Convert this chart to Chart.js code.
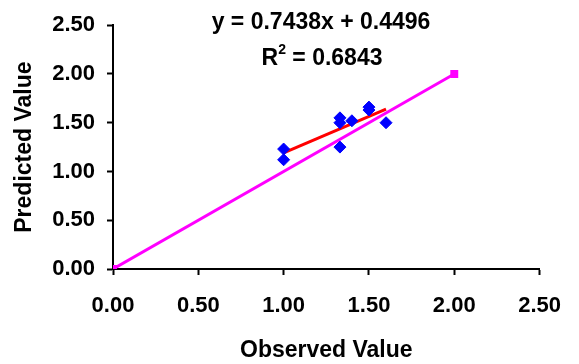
<!DOCTYPE html>
<html>
<head>
<meta charset="utf-8">
<script src="https://cdn.jsdelivr.net/npm/chart.js@4/dist/chart.umd.min.js"></script>
<style>
  html, body { margin: 0; padding: 0; background: #fff; }
  #wrap { width: 579px; height: 364px; }
</style>
</head>
<body>
<div id="wrap"><canvas id="fitChart" width="579" height="364"></canvas></div>
<script>
// 観測値と予測値
const observedX = [1.00, 1.00, 1.33, 1.33, 1.33, 1.40, 1.50, 1.50, 1.60];
const predictedY = [1.23, 1.12, 1.55, 1.50, 1.25, 1.52, 1.66, 1.63, 1.50];

// 近似直線 (y = 0.7438x + 0.4496)
const trendX = [1.00, 1.60];
const trendY = [1.19, 1.64];

// 1:1 線
const oneToOneX = [0, 2];
const oneToOneY = [0, 2];

const tickValues = [0, 0.5, 1, 1.5, 2, 2.5];

const FONT = "'Liberation Sans', Arial, sans-serif";

function toPoints(xs, ys) {
  return xs.map((x, i) => ({ x: x, y: ys[i] }));
}

// 数式と R2 の表示
const equationLabel = {
  id: "equationLabel",
  afterDraw(chart) {
    const ctx = chart.ctx;
    ctx.save();
    ctx.fillStyle = "#000";
    ctx.textBaseline = "middle";
    ctx.font = "bold 23px " + FONT;
    ctx.textAlign = "center";
    ctx.fillText("y = 0.7438x + 0.4496", 321, 23);

    // R^2 = 0.6843
    const rest = " = 0.6843";
    const wR = ctx.measureText("R").width;
    ctx.font = "bold 14px " + FONT;
    const w2 = ctx.measureText("2").width;
    ctx.font = "bold 23px " + FONT;
    const wRest = ctx.measureText(rest).width;
    let x = 322 - (wR + w2 + wRest) / 2;
    ctx.textAlign = "left";
    ctx.fillText("R", x, 59);
    x += wR;
    ctx.font = "bold 14px " + FONT;
    ctx.fillText("2", x, 50);
    x += w2;
    ctx.font = "bold 23px " + FONT;
    ctx.fillText(rest, x, 59);
    ctx.restore();
  },
};

const fitChartConfig = {
  type: "scatter",
  data: {
    datasets: [
      {
        label: "Predicted",
        data: toPoints(observedX, predictedY),
        pointStyle: "rectRot",
        pointRadius: 6,
        pointHoverRadius: 6,
        backgroundColor: "#0000ff",
        borderColor: "#0000ff",
        borderWidth: 1,
        order: 1,
      },
      {
        label: "Trend",
        data: toPoints(trendX, trendY),
        showLine: true,
        borderColor: "#ff0000",
        borderWidth: 3,
        pointRadius: 0,
        order: 2,
      },
      {
        label: "1:1",
        data: toPoints(oneToOneX, oneToOneY),
        showLine: true,
        borderColor: "#ff00ff",
        backgroundColor: "#ff00ff",
        borderWidth: 3,
        pointStyle: "rect",
        pointRadius: 3.5,
        order: 3,
      },
    ],
  },
  options: {
    responsive: false,
    animation: false,
    layout: {
      padding: { top: 21, right: 34, bottom: 0, left: 0 },
    },
    plugins: {
      legend: { display: false },
      tooltip: { enabled: false },
    },
    scales: {
      x: {
        type: "linear",
        min: 0,
        max: 2.5,
        afterBuildTicks: (scale) => {
          scale.ticks = tickValues.map((v) => ({ value: v }));
        },
        afterFit: (scale) => {
          scale.height = 95;
        },
        grid: {
          drawOnChartArea: false,
          drawTicks: true,
          tickLength: 6,
          tickWidth: 2,
          tickColor: "#000",
        },
        border: { color: "#000", width: 2 },
        ticks: {
          padding: 18,
          color: "#000",
          font: { family: FONT, size: 22, weight: "bold" },
          maxRotation: 0,
          callback: (v) => Number(v).toFixed(2),
        },
        title: {
          display: true,
          text: "Observed Value",
          color: "#000",
          font: { family: FONT, size: 23, weight: "bold" },
          padding: { top: 0, bottom: 0 },
        },
      },
      y: {
        type: "linear",
        min: 0,
        max: 2.5,
        afterBuildTicks: (scale) => {
          scale.ticks = tickValues.map((v) => ({ value: v }));
        },
        afterFit: (scale) => {
          scale.width = 113;
        },
        grid: {
          drawOnChartArea: false,
          drawTicks: true,
          tickLength: 6,
          tickWidth: 2,
          tickColor: "#000",
        },
        border: { color: "#000", width: 2 },
        ticks: {
          padding: 12,
          color: "#000",
          font: { family: FONT, size: 22, weight: "bold" },
          callback: (v) => Number(v).toFixed(2),
        },
        title: {
          display: true,
          text: "Predicted Value",
          color: "#000",
          font: { family: FONT, size: 23, weight: "bold" },
          padding: { top: 11, bottom: 0 },
        },
      },
    },
  },
  plugins: [equationLabel],
};

document.addEventListener("DOMContentLoaded", () => {
  const fitChart = new Chart("fitChart", fitChartConfig);
});
</script>
</body>
</html>
